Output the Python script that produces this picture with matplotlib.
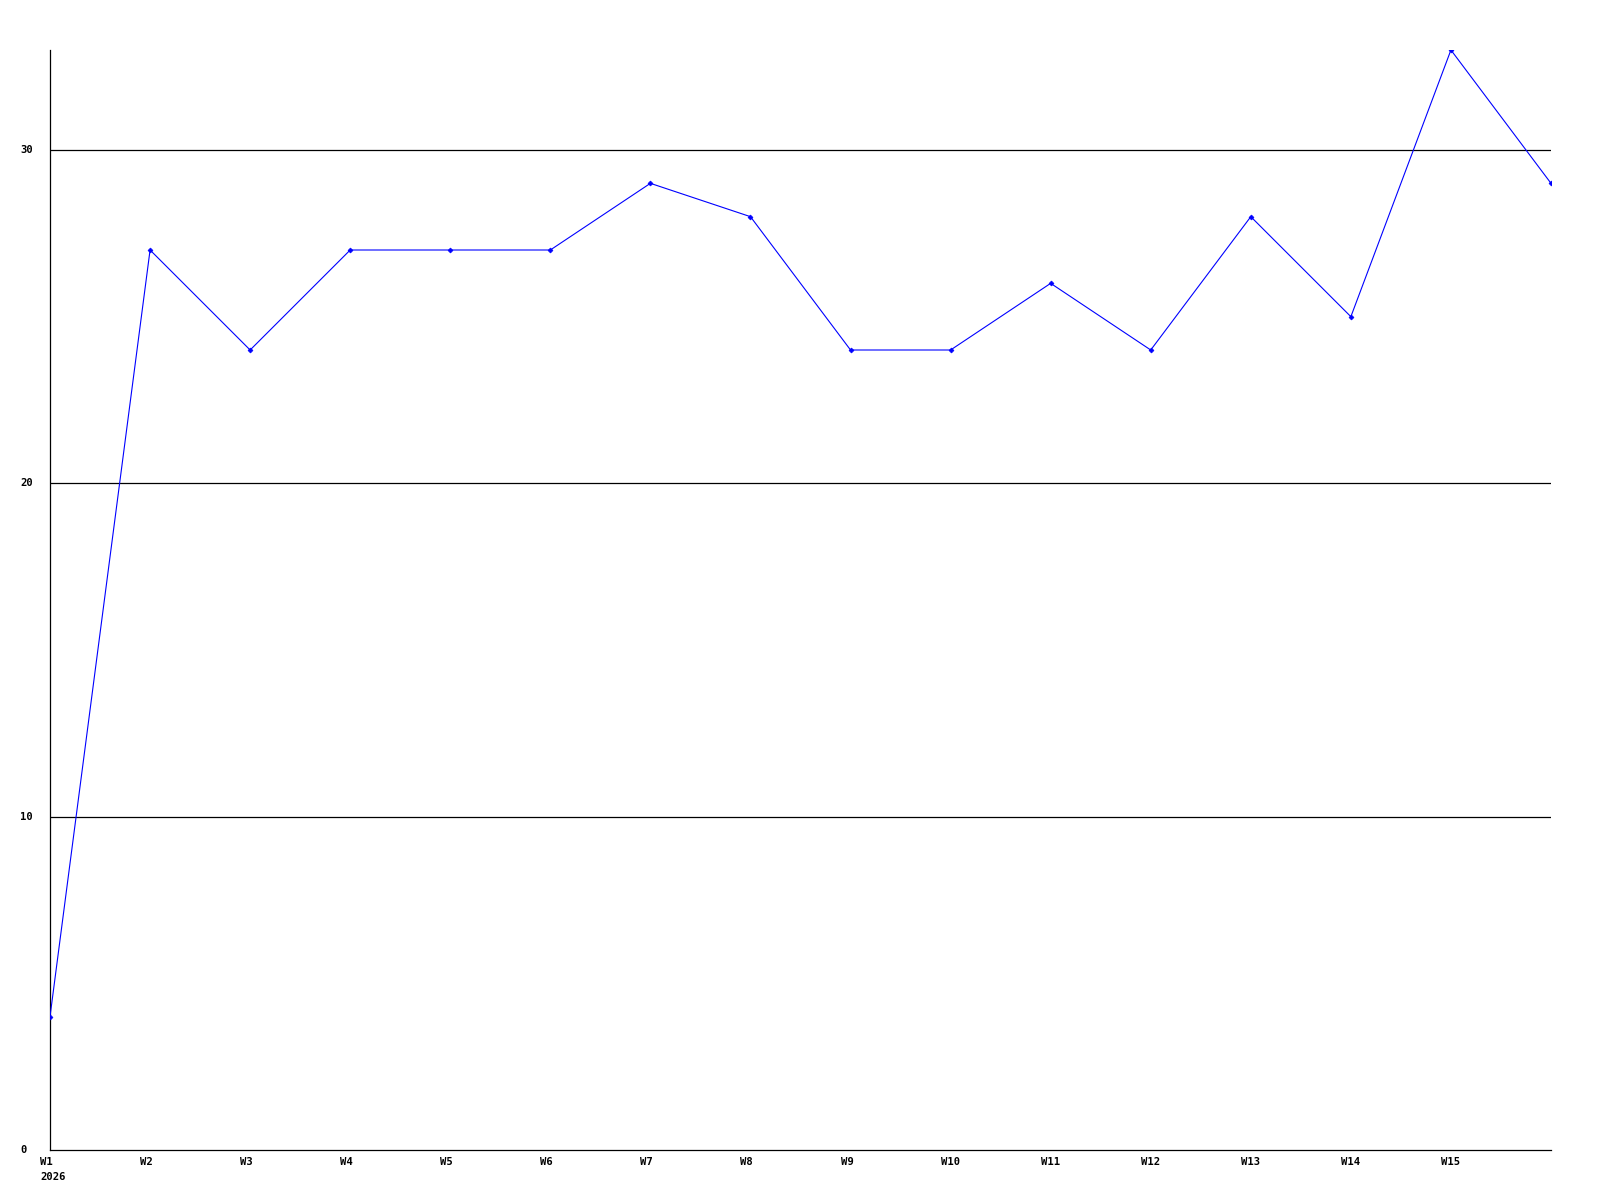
import matplotlib
matplotlib.use("Agg")
import matplotlib.pyplot as plt
import matplotlib.transforms as mtransforms

weeks = ["W1", "W2", "W3", "W4", "W5", "W6", "W7", "W8", "W9", "W10",
         "W11", "W12", "W13", "W14", "W15", "W16"]
values = [4, 27, 24, 27, 27, 27, 29, 28, 24, 24, 26, 24, 28, 25, 33, 29]
label_weeks = weeks[:15]
year_label = "2026"
y_ticks = [0, 10, 20, 30]

fig = plt.figure(figsize=(16, 12), dpi=100)
ax = fig.add_axes([50/1600, 50/1200, 1501/1600, 1100/1200])
x = list(range(len(values)))
ax.plot(x, values, color="#0000ff", linewidth=0.8, marker="D", markersize=2.5,
        markeredgewidth=0.5, zorder=3)
ax.set_xlim(0, len(values) - 1)
ax.set_ylim(0, 33)
for v in y_ticks[1:]:
    ax.axhline(v, color="black", linewidth=0.9, zorder=1)
for s in ["top", "right"]:
    ax.spines[s].set_visible(False)
for s in ["left", "bottom"]:
    ax.spines[s].set_linewidth(0.9)
    ax.spines[s].set_color("black")
ax.set_xticks([])
ax.set_yticks([])

font = dict(family="DejaVu Sans Mono", weight="bold", size=7.6)
ytrans = mtransforms.blended_transform_factory(fig.transFigure, ax.transData)
for v in y_ticks:
    ax.text(20/1600, v, str(v), transform=ytrans, ha="left", va="center", **font)

xtrans = mtransforms.blended_transform_factory(ax.transData, fig.transFigure)
for i, lab in enumerate(label_weeks):
    t = mtransforms.offset_copy(xtrans, fig=fig, x=-10, y=0, units="dots")
    ax.text(i, 1 - 1162/1200, lab, transform=t, ha="left", va="center", **font)
t = mtransforms.offset_copy(xtrans, fig=fig, x=-10, y=0, units="dots")
ax.text(0, 1 - 1177/1200, year_label, transform=t, ha="left", va="center", **font)

fig.savefig("out.png", dpi=100)
